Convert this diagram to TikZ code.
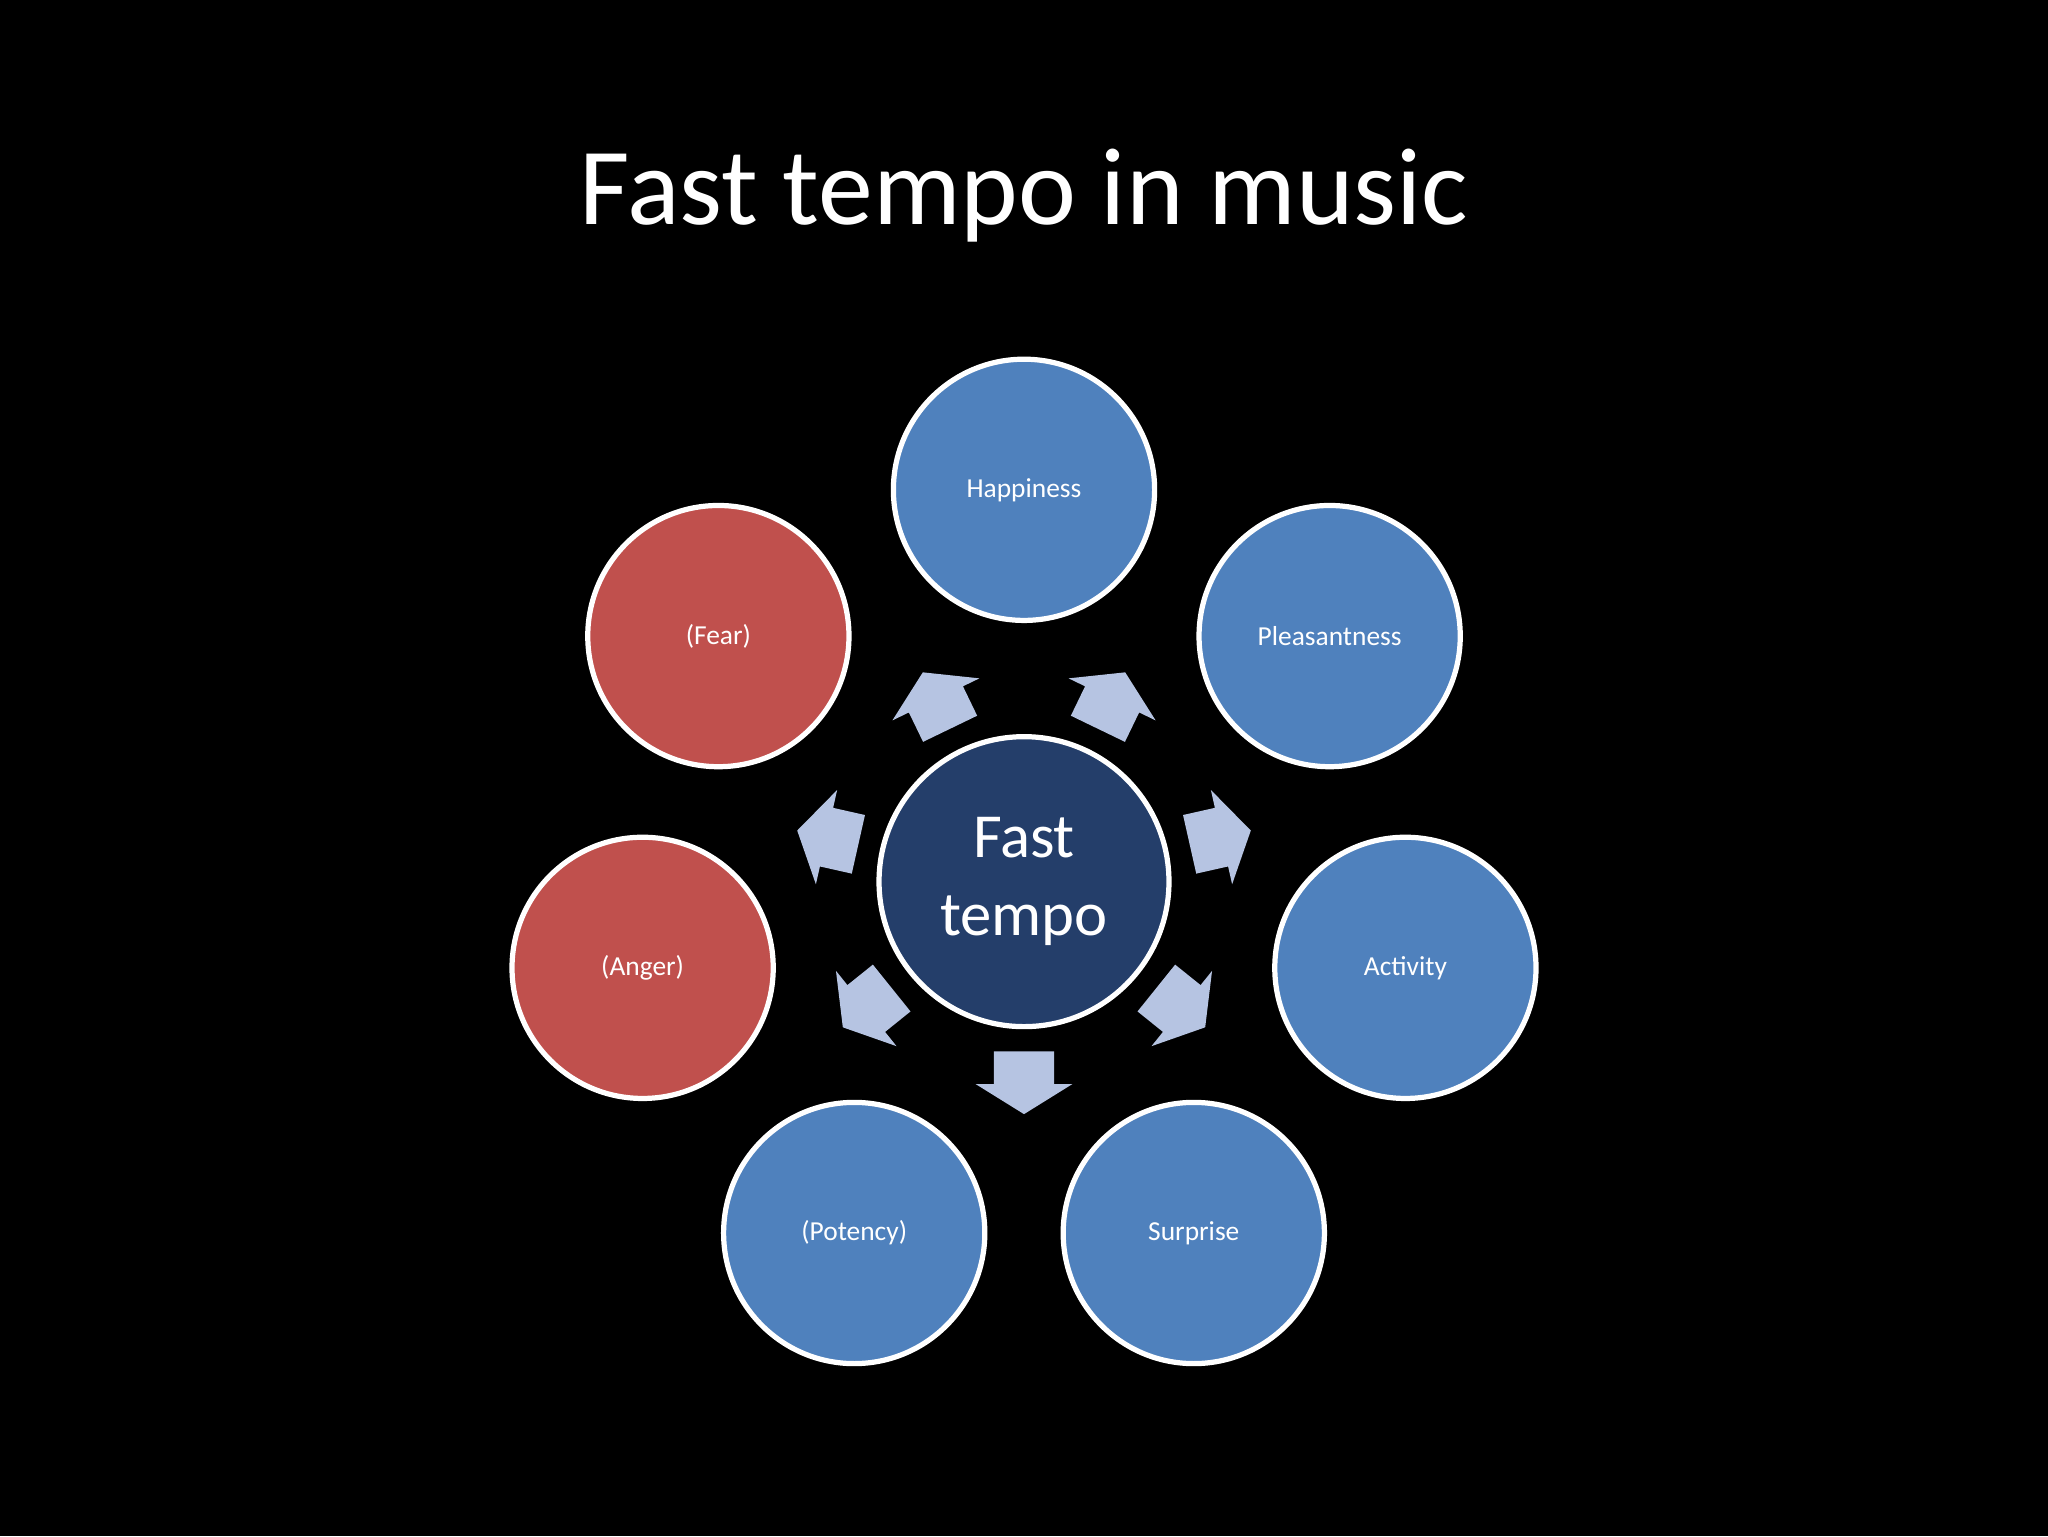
\documentclass[tikz,border=0pt]{standalone}
\usepackage{fontspec}
\setmainfont{Carlito}
\definecolor{cblue}{RGB}{79,129,189}
\definecolor{cred}{RGB}{192,80,77}
\definecolor{cnavy}{RGB}{36,62,106}
\definecolor{carrow}{RGB}{182,196,226}
\begin{document}
\begin{tikzpicture}[x=1pt,y=-1pt,
  outer/.style={circle,draw=white,line width=4pt,minimum size=200pt,inner sep=0pt,text=white,font=\fontsize{21}{24}\selectfont},
  bluec/.style={outer,fill=cblue},
  redc/.style={outer,fill=cred}]
\fill[black] (0,0) rectangle (1568,1176);
\useasboundingbox (0,0) rectangle (1568,1176);
\node[text=white,font=\fontsize{84}{90}\selectfont] (title) at (784,150) {Fast tempo in music};
\node[circle,draw=white,line width=4pt,fill=cnavy,minimum size=222pt,inner sep=0pt,text=white,align=center,font=\fontsize{48}{60}\selectfont] (c) at (784,675) {Fast\\tempo};
\node[bluec] (hap) at (784,375) {Happiness};
\node[bluec] (ple) at (1018,487) {Pleasantness};
\node[bluec] (act) at (1076,741) {Activity};
\node[bluec] (sur) at (914,944) {Surprise};
\node[bluec] (pot) at (654,944) {(Potency)};
\node[redc] (ang) at (492,741) {(Anger)};
\node[redc] (fea) at (550,487) {(Fear)};
\foreach \a in {90,38.8,-12.7,-64.2,-115.8,-167.3,141.2}{
  \begin{scope}[shift={(c.center)},rotate=-\a]
    \fill[carrow] (130,-23) -- (155,-23) -- (155,-37) -- (178,0) -- (155,37) -- (155,23) -- (130,23) -- cycle;
  \end{scope}}
\end{tikzpicture}
\end{document}
